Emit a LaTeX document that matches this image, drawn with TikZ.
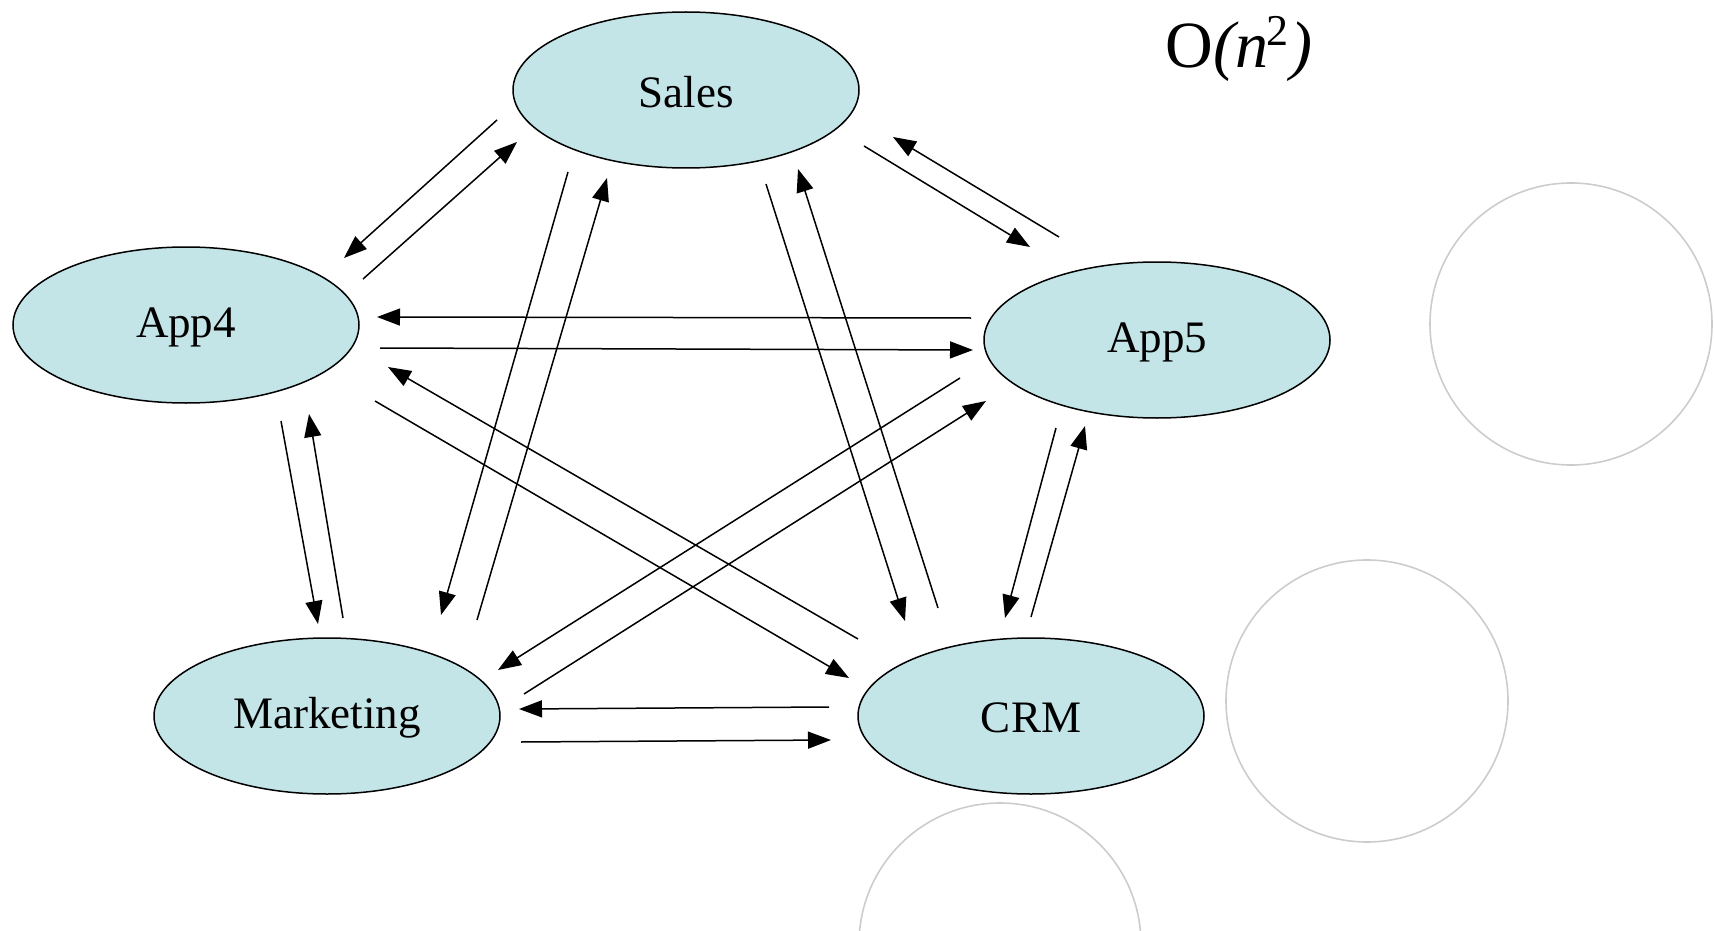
\documentclass[tikz,border=0pt]{standalone}
\usepackage{fontspec}
\setmainfont{Liberation Serif}
\usetikzlibrary{shapes.geometric,arrows.meta}
\definecolor{nodefill}{RGB}{196,229,232}
\definecolor{ringgray}{RGB}{204,204,204}
\newcommand{\lowlabel}[1]{\raisebox{-2pt}[\height][\depth]{#1}}
\tikzset{
  appnode/.style={ellipse, draw=black, line width=1.5pt, fill=nodefill,
    minimum width=346pt, minimum height=156pt, inner sep=0pt,
    font=\fontsize{45}{54}\selectfont},
  ring/.style={draw=ringgray, line width=1.6pt},
  flow/.style={line width=1.5pt, -{Triangle[length=23pt,width=17pt]}}
}
\begin{document}
\begin{tikzpicture}[x=1pt,y=-1pt]
\useasboundingbox (0,0) rectangle (1714,931);
% decorative rings
\draw[ring] (1571,324) circle (141);
\draw[ring] (1367,701) circle (141);
\draw[ring] (1000,944) circle (141);
% nodes
\node[appnode] (sales) at (686,90) {\lowlabel{Sales}};
\node[appnode] (app4) at (186,325) {\lowlabel{App4}};
\node[appnode] (app5) at (1157,340) {\lowlabel{App5}};
\node[appnode] (mkt) at (327,716) {\lowlabel{Marketing}};
\node[appnode] (crm) at (1031,716) {\lowlabel{CRM}};
\node[font=\fontsize{66}{78}\selectfont] (cx) at (1239,49) {O\textit{(n}\kern-2pt\raisebox{22pt}{\fontsize{44}{50}\selectfont 2}\kern2pt\textit{)}};
% endpoints
\coordinate (s4a) at (497,120); \coordinate (s4b) at (344,258);
\coordinate (4sa) at (363,279); \coordinate (4sb) at (517,142);
\coordinate (s5a) at (864,146); \coordinate (s5b) at (1030,247);
\coordinate (5sa) at (1059,237); \coordinate (5sb) at (893,137);
\coordinate (54a) at (971,318); \coordinate (54b) at (377,317);
\coordinate (45a) at (380,348); \coordinate (45b) at (973,350);
\coordinate (c4a) at (858,639); \coordinate (c4b) at (388,367);
\coordinate (4ca) at (375,401); \coordinate (4cb) at (849,678);
\coordinate (4ma) at (281,421); \coordinate (4mb) at (318,624);
\coordinate (m4a) at (343,618); \coordinate (m4b) at (309,414);
\coordinate (sma) at (568,172); \coordinate (smb) at (441,615);
\coordinate (msa) at (477,620); \coordinate (msb) at (607,178);
\coordinate (sca) at (766,184); \coordinate (scb) at (905,621);
\coordinate (csa) at (938,608); \coordinate (csb) at (798,169);
\coordinate (5ma) at (960,378); \coordinate (5mb) at (498,670);
\coordinate (m5a) at (524,694); \coordinate (m5b) at (986,401);
\coordinate (5ca) at (1056,428); \coordinate (5cb) at (1005,618);
\coordinate (c5a) at (1031,617); \coordinate (c5b) at (1085,426);
\coordinate (cma) at (829,707); \coordinate (cmb) at (519,709);
\coordinate (mca) at (521,742); \coordinate (mcb) at (831,740);
% connectors
\draw[flow] (s4a) -- (s4b);
\draw[flow] (4sa) -- (4sb);
\draw[flow] (s5a) -- (s5b);
\draw[flow] (5sa) -- (5sb);
\draw[flow] (54a) -- (54b);
\draw[flow] (45a) -- (45b);
\draw[flow] (c4a) -- (c4b);
\draw[flow] (4ca) -- (4cb);
\draw[flow] (4ma) -- (4mb);
\draw[flow] (m4a) -- (m4b);
\draw[flow] (sma) -- (smb);
\draw[flow] (msa) -- (msb);
\draw[flow] (sca) -- (scb);
\draw[flow] (csa) -- (csb);
\draw[flow] (5ma) -- (5mb);
\draw[flow] (m5a) -- (m5b);
\draw[flow] (5ca) -- (5cb);
\draw[flow] (c5a) -- (c5b);
\draw[flow] (cma) -- (cmb);
\draw[flow] (mca) -- (mcb);
\end{tikzpicture}
\end{document}
